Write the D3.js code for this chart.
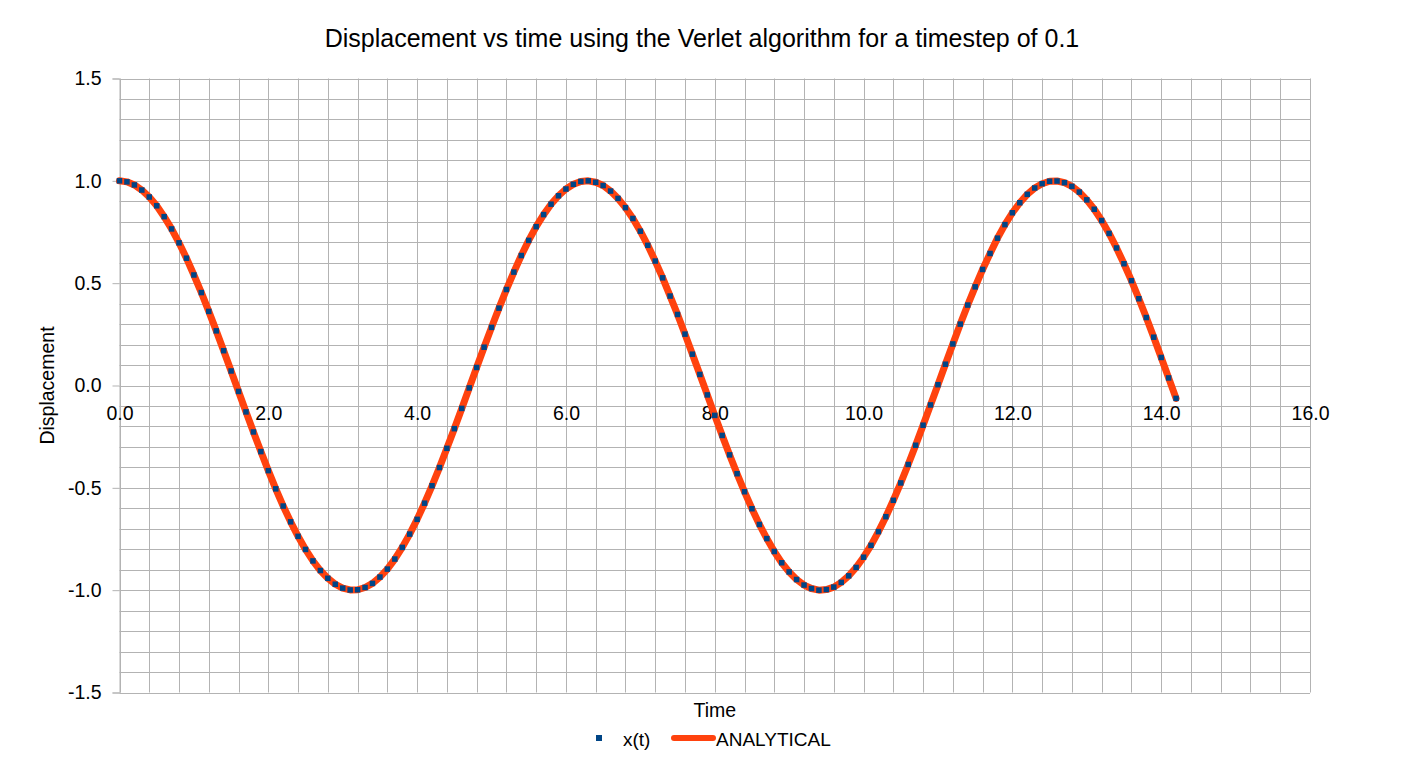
<!DOCTYPE html>
<html>
<head>
<meta charset="utf-8">
<script src="https://cdn.jsdelivr.net/npm/d3@7"></script>
<style>
  html, body { margin: 0; padding: 0; background: #fff; }
  svg { display: block; font-family: "Liberation Sans", Arial, sans-serif; }
</style>
</head>
<body>
<svg id="chart" width="1404" height="774"></svg>
<script>
// ---- data ----
const times = [
  0.0,0.1,0.2,0.3,0.4,0.5,0.6,0.7,0.8,0.9,
  1.0,1.1,1.2,1.3,1.4,1.5,1.6,1.7,1.8,1.9,
  2.0,2.1,2.2,2.3,2.4,2.5,2.6,2.7,2.8,2.9,
  3.0,3.1,3.2,3.3,3.4,3.5,3.6,3.7,3.8,3.9,
  4.0,4.1,4.2,4.3,4.4,4.5,4.6,4.7,4.8,4.9,
  5.0,5.1,5.2,5.3,5.4,5.5,5.6,5.7,5.8,5.9,
  6.0,6.1,6.2,6.3,6.4,6.5,6.6,6.7,6.8,6.9,
  7.0,7.1,7.2,7.3,7.4,7.5,7.6,7.7,7.8,7.9,
  8.0,8.1,8.2,8.3,8.4,8.5,8.6,8.7,8.8,8.9,
  9.0,9.1,9.2,9.3,9.4,9.5,9.6,9.7,9.8,9.9,
  10.0,10.1,10.2,10.3,10.4,10.5,10.6,10.7,10.8,10.9,
  11.0,11.1,11.2,11.3,11.4,11.5,11.6,11.7,11.8,11.9,
  12.0,12.1,12.2,12.3,12.4,12.5,12.6,12.7,12.8,12.9,
  13.0,13.1,13.2,13.3,13.4,13.5,13.6,13.7,13.8,13.9,
  14.0,14.1,14.2
];
const xVerlet = [
  1.000,0.995,0.980,0.955,0.921,0.878,0.825,0.765,0.697,0.622,
  0.540,0.454,0.362,0.267,0.170,0.071,-0.029,-0.129,-0.227,-0.323,
  -0.416,-0.505,-0.589,-0.666,-0.737,-0.801,-0.857,-0.904,-0.942,-0.971,
  -0.990,-0.999,-0.998,-0.987,-0.967,-0.936,-0.897,-0.848,-0.791,-0.726,
  -0.654,-0.575,-0.490,-0.401,-0.307,-0.211,-0.112,-0.012,0.088,0.187,
  0.284,0.378,0.469,0.554,0.635,0.709,0.776,0.835,0.886,0.927,
  0.960,0.983,0.997,1.000,0.993,0.977,0.950,0.914,0.869,0.816,
  0.754,0.685,0.608,0.526,0.437,0.347,0.251,0.153,0.054,-0.046,
  -0.146,-0.244,-0.339,-0.431,-0.519,-0.602,-0.679,-0.748,-0.811,-0.866,
  -0.911,-0.948,-0.975,-0.992,-1.000,-0.997,-0.985,-0.962,-0.930,-0.889,
  -0.839,-0.781,-0.714,-0.641,-0.561,-0.476,-0.386,-0.292,-0.194,-0.095,
  0.004,0.104,0.203,0.300,0.393,0.482,0.567,0.645,0.720,0.786,
  0.844,0.893,0.934,0.965,0.986,0.998,0.999,0.991,0.973,0.945,
  0.907,0.861,0.806,0.743,0.672,0.595,0.512,0.424,0.332,0.236,
  0.137,0.037,-0.063
];
const xAnalytical = [
  1.000,0.995,0.980,0.955,0.921,0.878,0.825,0.765,0.697,0.622,
  0.540,0.454,0.362,0.267,0.170,0.071,-0.029,-0.129,-0.227,-0.323,
  -0.416,-0.505,-0.589,-0.666,-0.737,-0.801,-0.857,-0.904,-0.942,-0.971,
  -0.990,-0.999,-0.998,-0.987,-0.967,-0.936,-0.897,-0.848,-0.791,-0.726,
  -0.654,-0.575,-0.490,-0.401,-0.307,-0.211,-0.112,-0.012,0.088,0.187,
  0.284,0.378,0.469,0.554,0.635,0.709,0.776,0.835,0.886,0.927,
  0.960,0.983,0.997,1.000,0.993,0.977,0.950,0.914,0.869,0.816,
  0.754,0.685,0.608,0.526,0.437,0.347,0.251,0.153,0.054,-0.046,
  -0.146,-0.244,-0.339,-0.431,-0.519,-0.602,-0.679,-0.748,-0.811,-0.866,
  -0.911,-0.948,-0.975,-0.992,-1.000,-0.997,-0.985,-0.962,-0.930,-0.889,
  -0.839,-0.781,-0.714,-0.641,-0.561,-0.476,-0.386,-0.292,-0.194,-0.095,
  0.004,0.104,0.203,0.300,0.393,0.482,0.567,0.645,0.720,0.786,
  0.844,0.893,0.934,0.965,0.986,0.998,0.999,0.991,0.973,0.945,
  0.907,0.861,0.806,0.743,0.672,0.595,0.512,0.424,0.332,0.236,
  0.137,0.037,-0.063
];
const xTicks = [0, 2, 4, 6, 8, 10, 12, 14, 16];
const yTicks = [-1.5, -1.0, -0.5, 0.0, 0.5, 1.0, 1.5];
const seriesNames = ["x(t)", "ANALYTICAL"];
const titleText = "Displacement vs time using the Verlet algorithm for a timestep of 0.1";
const xTitle = "Time";
const yTitle = "Displacement";

// ---- layout ----
const plot = { left: 119.5, right: 1310, top: 78.5, bottom: 692.5 };
const gridColor = "#b3b3b3";
const blue = "#004586", orange = "#ff420e";
const fmt = d => d.toFixed(1);

const svg = d3.select("#chart");
const x = d3.scaleLinear().domain([0, 16]).range([plot.left, plot.right]);
const y = d3.scaleLinear().domain([-1.5, 1.5]).range([plot.bottom, plot.top]);

// minor grid (x every 0.4, y every 0.1)
const xMinor = d3.range(0, 41).map(i => i * 0.4);
const yMinor = d3.range(-15, 16).map(i => i / 10);

const grid = svg.append("g");
grid.selectAll("line.vx").data(xMinor).join("line")
  .attr("x1", d => Math.round(x(d)) + 0.5).attr("x2", d => Math.round(x(d)) + 0.5)
  .attr("y1", plot.top).attr("y2", plot.bottom)
  .attr("stroke", gridColor).attr("stroke-width", 1);
grid.selectAll("line.hy").data(yMinor).join("line")
  .attr("x1", plot.left).attr("x2", plot.right)
  .attr("y1", d => Math.round(y(d)) + 0.5).attr("y2", d => Math.round(y(d)) + 0.5)
  .attr("stroke", gridColor).attr("stroke-width", 1);

// y axis with ticks to the left
const yAxis = d3.axisLeft(y).tickValues(yTicks).tickSize(7).tickPadding(11).tickFormat(fmt);
const gy = svg.append("g").attr("transform", `translate(${plot.left},0)`).call(yAxis);
gy.select(".domain").attr("stroke", gridColor);
gy.selectAll(".tick line").attr("stroke", gridColor);
gy.selectAll(".tick text").attr("fill", "#000").attr("font-size", 19.5)
  .attr("font-family", "Liberation Sans, Arial, sans-serif");

// x axis labels positioned at y=0 crossing (no tick marks)
const xAxis = d3.axisBottom(x).tickValues(xTicks).tickSize(0).tickPadding(21).tickFormat(fmt);
const gx = svg.append("g").attr("transform", `translate(0,${y(0)})`).call(xAxis);
gx.select(".domain").remove();
gx.selectAll(".tick text").attr("fill", "#000").attr("font-size", 19.5)
  .attr("font-family", "Liberation Sans, Arial, sans-serif");

// analytical line
const pts = times.map((t, i) => [t, xAnalytical[i]]);
const line = d3.line().x(d => x(d[0])).y(d => y(d[1])).curve(d3.curveLinear);
svg.append("path").datum(pts)
  .attr("d", line).attr("fill", "none").attr("stroke", orange)
  .attr("stroke-width", 7).attr("stroke-linejoin", "round").attr("stroke-linecap", "round");

// verlet markers
const ms = 5.5;
svg.append("g").selectAll("rect").data(times.map((t, i) => [t, xVerlet[i]])).join("rect")
  .attr("x", d => x(d[0]) - ms / 2).attr("y", d => y(d[1]) - ms / 2)
  .attr("width", ms).attr("height", ms).attr("fill", blue);

// titles
svg.append("text").attr("x", 702).attr("y", 47).attr("text-anchor", "middle")
  .attr("font-size", 25).attr("fill", "#000").text(titleText);
svg.append("text").attr("x", (plot.left + plot.right) / 2).attr("y", 717)
  .attr("text-anchor", "middle").attr("font-size", 19.5).attr("fill", "#000").text(xTitle);
svg.append("text").attr("transform", `translate(54,${(plot.top + plot.bottom) / 2}) rotate(-90)`)
  .attr("text-anchor", "middle").attr("font-size", 19.5).attr("fill", "#000").text(yTitle);

// legend
const lg = svg.append("g");
lg.append("rect").attr("x", 599 - 3).attr("y", 738 - 3).attr("width", 6).attr("height", 6).attr("fill", blue);
lg.append("text").attr("x", 623).attr("y", 746).attr("font-size", 19).attr("fill", "#000").text(seriesNames[0]);
lg.append("line").attr("x1", 674).attr("x2", 713).attr("y1", 738).attr("y2", 738)
  .attr("stroke", orange).attr("stroke-width", 6).attr("stroke-linecap", "round");
lg.append("text").attr("x", 716).attr("y", 746).attr("font-size", 19).attr("fill", "#000").text(seriesNames[1]);
</script>
</body>
</html>
